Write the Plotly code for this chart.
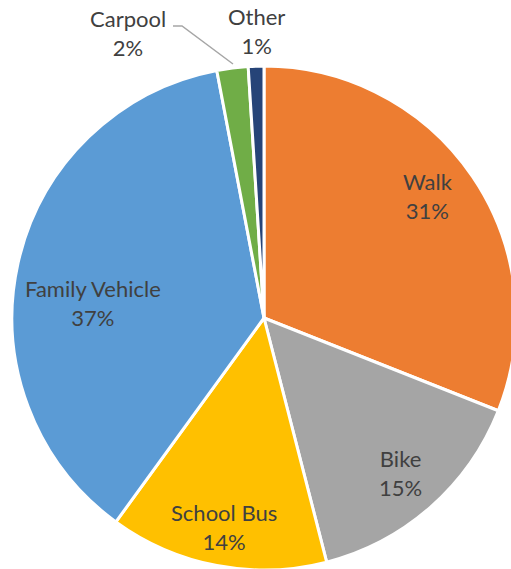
import math
import plotly.graph_objects as go

labels = ["Walk", "Bike", "School Bus", "Family Vehicle", "Carpool", "Other"]
values = [31, 15, 14, 37, 2, 1]
colors = ["#ED7D31", "#A5A5A5", "#FFC000", "#5B9BD5", "#70AD47", "#264478"]
# label placement: fraction of radius and angular nudge (deg); None = outside label
label_radius = [0.81, 0.82, 0.845, 0.68, None, None]
label_nudge = [-2.4, 0, 0, -7.5, 0, 0]

FONT = "Lato"
FSIZE = 22
TXT = "#404040"

# figure geometry (pixels)
W, H = 530, 575
ML, MT = 12, 66
PLOT = 504
MR, MB = W - ML - PLOT, H - MT - PLOT


def px(x, y):
    """pixel position on page -> paper coords"""
    return (x - ML) / PLOT, (MT + PLOT - y) / PLOT


fig = go.Figure(go.Pie(
    labels=labels,
    values=values,
    sort=False,
    direction="clockwise",
    rotation=0,
    marker=dict(colors=colors, line=dict(color="white", width=3)),
    textinfo="none",
    showlegend=False,
    hoverinfo="label+percent",
))

total = sum(values)
cum = 0
for lab, val, fr, nd in zip(labels, values, label_radius, label_nudge):
    mid = (cum + val / 2) / total * 2 * math.pi + math.radians(nd)
    cum += val
    if fr is None:
        continue
    x = 0.5 + fr * 0.5 * math.sin(mid)
    y = 0.5 + fr * 0.5 * math.cos(mid)
    fig.add_annotation(
        xref="paper", yref="paper", x=x, y=y,
        xanchor="center", yanchor="middle",
        text=f"{lab}<br>{val}%", showarrow=False,
        font=dict(family=FONT, size=FSIZE, color=TXT),
    )

# outside labels for the two small slices
for i, (cx, cy) in zip([4, 5], [(128, 33), (256, 31)]):
    x, y = px(cx, cy)
    fig.add_annotation(
        xref="paper", yref="paper", x=x, y=y,
        xanchor="center", yanchor="middle",
        text=f"{labels[i]}<br>{values[i]}%", showarrow=False,
        font=dict(family=FONT, size=FSIZE, color=TXT),
    )

# leader line for Carpool
pts = [px(173, 26), px(182, 26), px(233, 64)]
path = "M {} {} L {} {} L {} {}".format(*[c for p in pts for c in p])
fig.add_shape(type="path", xref="paper", yref="paper", path=path,
              line=dict(color="#A6A6A6", width=1.5))

fig.update_layout(
    width=W, height=H,
    margin=dict(l=ML, r=MR, t=MT, b=MB),
    paper_bgcolor="white",
)
fig.write_html(
    "out.html",
    config={"displayModeBar": False},
    post_script="document.body.style.margin='0';document.body.style.overflow='hidden';",
)
